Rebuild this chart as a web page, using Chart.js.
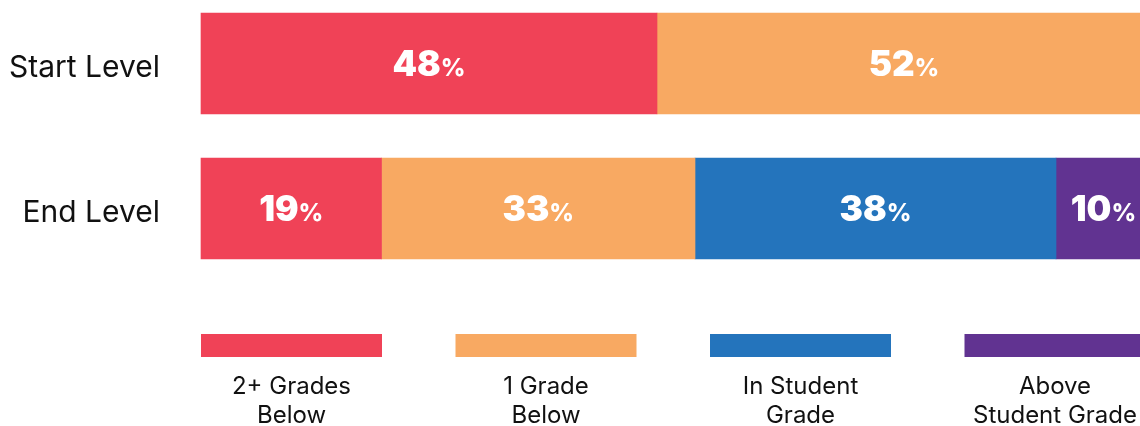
<!DOCTYPE html>
<html>
<head>
<meta charset="utf-8">
<script src="https://cdn.jsdelivr.net/npm/chart.js@4"></script>
<style>
  html, body { margin: 0; padding: 0; background: #fff; overflow: hidden; }
  #wrap { width: 1140px; height: 426px; overflow: hidden; }
</style>
</head>
<body>
<div id="wrap"><canvas id="levels" width="1151" height="426"></canvas></div>
<script>
// categories (rows)
const levels = ["Start Level", "End Level"];

// series, one per grade band (percent of students)
const twoPlusBelow = [48, 19];
const oneBelow = [52, 33];
const inGrade = [0, 38];
const aboveGrade = [0, 10];

// legend text, split in two lines like the original
const seriesNames = [
    ["2+ Grades", "Below"],
    ["1 Grade", "Below"],
    ["In Student", "Grade"],
    ["Above", "Student Grade"]
];

const seriesColors = ["#F04257", "#F8A962", "#2474BC", "#613391"];

const FONT = "Inter, 'Open Sans', sans-serif";

// write the % labels inside each bar segment
const barLabels = {
    id: "barLabels",
    afterDatasetsDraw(chart) {
        const ctx = chart.ctx;
        ctx.save();
        ctx.fillStyle = "#fff";
        ctx.textBaseline = "alphabetic";
        ctx.textAlign = "left";
        chart.data.datasets.forEach((ds, i) => {
            const meta = chart.getDatasetMeta(i);
            meta.data.forEach((bar, j) => {
                const v = ds.data[j];
                if (!v) return;
                const num = String(v);
                const bigFont = "900 35px " + FONT;
                const smallFont = "800 24px " + FONT;
                ctx.font = bigFont;
                const w1 = ctx.measureText(num).width;
                ctx.font = smallFont;
                const w2 = ctx.measureText("%").width;
                const cx = (bar.x + bar.base) / 2;
                const x0 = cx - (w1 + w2) / 2;
                const yb = bar.y + 12;
                ctx.font = bigFont;
                ctx.fillText(num, x0, yb);
                ctx.font = smallFont;
                ctx.fillText("%", x0 + w1, yb);
            });
        });
        ctx.restore();
    }
};

// legend: colour strip with a two line caption under it
const stripLegend = {
    id: "stripLegend",
    afterDraw(chart) {
        const ctx = chart.ctx;
        const left = chart.chartArea.left;
        const step = 254.5;
        const boxW = 181;
        ctx.save();
        ctx.textAlign = "center";
        ctx.textBaseline = "middle";
        ctx.font = "400 24px " + FONT;
        chart.data.datasets.forEach((ds, i) => {
            const x = left + i * step;
            ctx.fillStyle = ds.backgroundColor;
            ctx.fillRect(x, 334, boxW, 23);
            ctx.fillStyle = "#111";
            const lines = seriesNames[i];
            lines.forEach((t, k) => {
                ctx.fillText(t, x + boxW / 2, 387 + k * 29);
            });
        });
        ctx.restore();
    }
};

const seriesData = [twoPlusBelow, oneBelow, inGrade, aboveGrade];

new Chart(document.getElementById("levels"), {
    type: "bar",
    data: {
        labels: levels,
        datasets: seriesData.map((d, i) => ({
            label: seriesNames[i].join(" "),
            data: d,
            backgroundColor: seriesColors[i],
            borderWidth: 0,
            barThickness: 101,
            clip: false
        }))
    },
    options: {
        indexAxis: "y",
        responsive: false,
        animation: false,
        layout: {
            padding: { top: 63.5, bottom: 217.5, left: 0, right: 0 }
        },
        plugins: {
            legend: { display: false },
            tooltip: { enabled: false }
        },
        scales: {
            x: {
                stacked: true,
                min: 0,
                max: 100,
                display: false
            },
            y: {
                stacked: true,
                offset: false,
                grid: { display: false, drawTicks: false },
                border: { display: false },
                ticks: {
                    padding: 41,
                    labelOffset: 4,
                    color: "#111",
                    font: { family: FONT, size: 30, weight: "400" }
                },
                afterFit(scale) {
                    scale.width = 201;
                }
            }
        }
    },
    plugins: [barLabels, stripLegend]
});
</script>
</body>
</html>
